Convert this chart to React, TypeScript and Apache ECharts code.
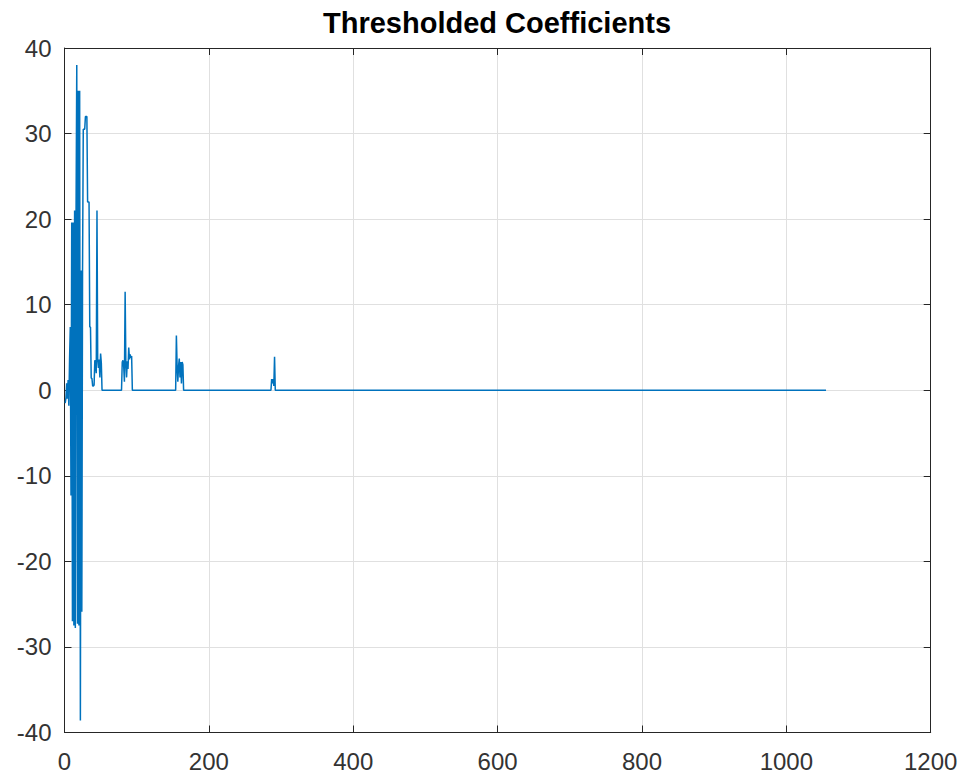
import React, { useEffect, useRef } from "react";
import * as echarts from "echarts";

// Thresholded wavelet coefficients: non-zero entries (1-based position, value)
const coefIndex = [
  1, 2, 3, 4, 5, 6, 7, 8, 9, 10, 11, 12, 13, 14, 15, 16, 17, 18, 19, 20,
  21, 22, 23, 24, 25, 26, 27, 28, 29, 30, 31, 32, 33, 34, 35, 36, 37, 38, 39, 40,
  41, 42, 43, 44, 45, 46, 47, 48, 49, 50, 51,
  80, 81, 82, 83, 84, 85, 86, 87, 88, 89, 90, 91, 92, 93,
  155, 156, 157, 158, 159, 160, 161, 162, 163, 164,
  287, 288, 289, 290, 291,
];
const coefValue = [
  -1.5, -0.9, 0.8, -1.0, 1.2, -1.8, 3.5, 7.4, -12.3, 19.6, -27.0, 19.6, -27.5, 21.0, -27.8, 20.5, 38.0, -27.3, 35.0, -27.5,
  35.0, -38.6, 14.0, -25.9, 14.0, 30.5, 30.5, 30.5, 32.0, 32.0, 32.0, 22.0, 22.0, 22.0, 7.4, 7.4, 1.4, 1.4, 0.5, 0.5,
  0.6, 3.5, 3.2, 2.0, 21.0, 3.5, 2.6, 3.6, 1.5, 4.3, 3.2,
  3.3, 3.5, 2.8, 1.0, 11.5, 3.0, 1.5, 3.4, 2.5, 5.0, 3.6, 4.2, 3.8, 4.0,
  6.4, 2.8, 1.0, 2.8, 3.7, 1.5, 3.3, 0.8, 3.3, 3.0,
  1.3, 0.8, 1.3, 0.5, 3.9,
];
const signalLength = 1055;

const xTicks = { min: 0, max: 1200, interval: 200 };
const yTicks = { min: -40, max: 40, interval: 10 };
const titleText = "Thresholded Coefficients";

export default function App() {
  const ref = useRef<HTMLDivElement>(null);

  useEffect(() => {
    if (!ref.current) return;
    const chart = echarts.init(ref.current, undefined, { renderer: "svg" });

    const lookup = new Map<number, number>();
    coefIndex.forEach((ix, k) => lookup.set(ix, coefValue[k]));
    const data: [number, number][] = [];
    for (let i = 1; i <= signalLength; i++) {
      data.push([i, lookup.has(i) ? (lookup.get(i) as number) : 0]);
    }

    const font = "'Liberation Sans', Arial, Helvetica, sans-serif";
    const boxColor = "#262626";
    const labelColor = "#333333";
    const gridColor = "#e0e0e0";

    const mainAxisCommon = {
      axisLine: { show: true, onZero: false, lineStyle: { color: boxColor, width: 1 } },
      axisTick: { show: true, inside: true, length: 7, lineStyle: { color: boxColor, width: 1 } },
      splitLine: { show: true, lineStyle: { color: gridColor, width: 1 } },
    };
    const mirrorAxisCommon = {
      axisLine: { show: true, onZero: false, lineStyle: { color: boxColor, width: 1 } },
      axisTick: { show: true, inside: true, length: 7, lineStyle: { color: boxColor, width: 1 } },
      axisLabel: { show: false },
      splitLine: { show: false },
    };
    const plain = (v: number) => String(v);

    chart.setOption({
      animation: false,
      backgroundColor: "#ffffff",
      title: {
        text: titleText,
        left: 492,
        top: 3,
        textAlign: "center",
        textStyle: { fontFamily: font, fontSize: 29, fontWeight: "bold", color: "#000000" },
      },
      grid: { left: 64.5, right: 35.3, top: 48, bottom: 45.5, containLabel: false },
      xAxis: [
        {
          type: "value",
          position: "bottom",
          ...xTicks,
          ...mainAxisCommon,
          axisLabel: { fontFamily: font, fontSize: 24, color: labelColor, margin: 17, formatter: plain },
        },
        { type: "value", position: "top", ...xTicks, ...mirrorAxisCommon },
      ],
      yAxis: [
        {
          type: "value",
          position: "left",
          ...yTicks,
          ...mainAxisCommon,
          axisLabel: { fontFamily: font, fontSize: 24, color: labelColor, margin: 13, formatter: plain },
        },
        { type: "value", position: "right", ...yTicks, ...mirrorAxisCommon },
      ],
      series: [
        {
          type: "line",
          xAxisIndex: 0,
          yAxisIndex: 0,
          data,
          showSymbol: false,
          symbol: "none",
          lineStyle: { color: "#0072BD", width: 1.5 },
          itemStyle: { color: "#0072BD" },
        },
      ],
    });

    return () => chart.dispose();
  }, []);

  return (
    <div
      ref={ref}
      style={{ position: "fixed", left: 0, top: 0, width: 966, height: 778, background: "#fff" }}
    />
  );
}
